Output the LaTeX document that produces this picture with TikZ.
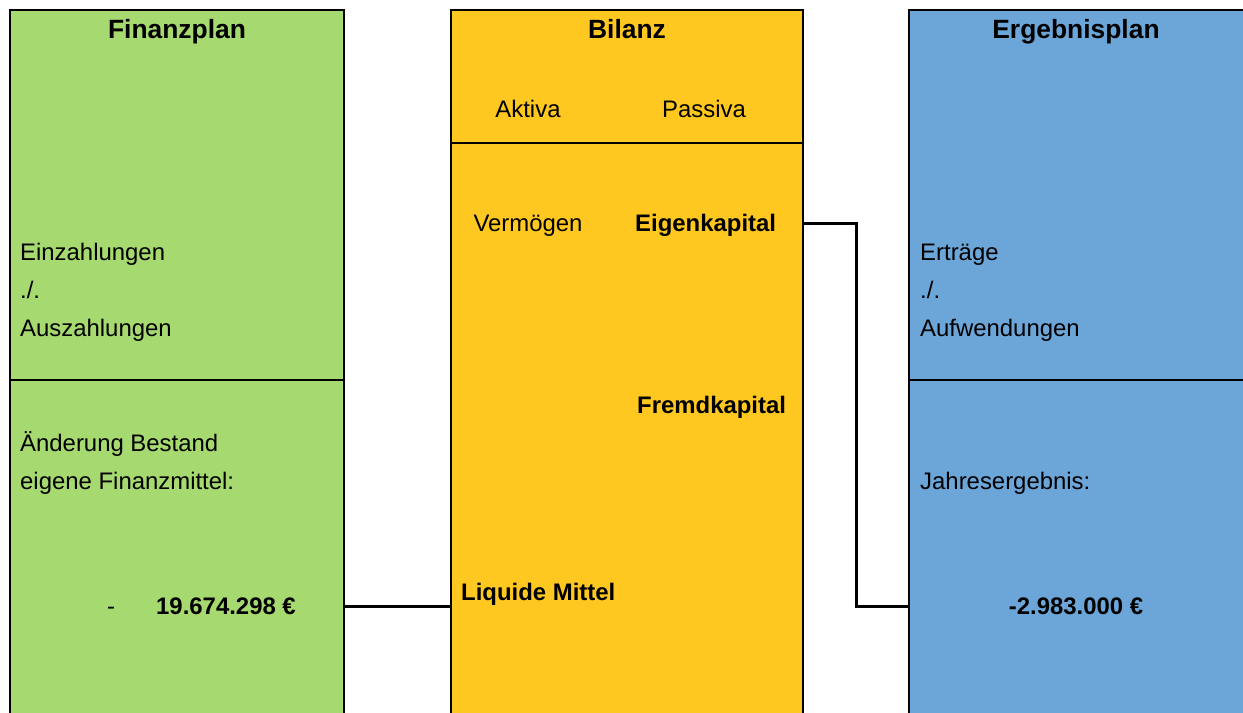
\documentclass[tikz,border=0pt]{standalone}
\usepackage{fontspec}
\setmainfont{Liberation Sans}
\definecolor{fgreen}{RGB}{166,217,111}
\definecolor{byellow}{RGB}{255,200,32}
\definecolor{eblue}{RGB}{108,166,217}
\begin{document}
\begin{tikzpicture}[x=1bp,y=-1bp,
  panel/.style={draw=black,line width=1.5bp,anchor=north west,inner sep=0pt,outer sep=0pt},
  divider/.style={line width=1.5bp},
  conn/.style={line width=3bp},
  title/.style={font=\fontsize{26.5}{30}\selectfont\bfseries,anchor=base,inner sep=0pt},
  txt/.style={font=\fontsize{24}{30}\selectfont,anchor=base west,inner sep=0pt},
  btxt/.style={font=\fontsize{24}{30}\selectfont\bfseries,anchor=base west,inner sep=0pt},
  ctxt/.style={font=\fontsize{24}{30}\selectfont,anchor=base,inner sep=0pt},
  cbtxt/.style={font=\fontsize{24}{30}\selectfont\bfseries,anchor=base,inner sep=0pt}]
\useasboundingbox (0,0) rectangle (1243,713);
\fill[white] (0,0) rectangle (1243,713);
\clip (0,0) rectangle (1243,713);
% panels
\node[panel,fill=fgreen,minimum width=334bp,minimum height=740bp] (fin) at (10,10) {};
\node[panel,fill=byellow,minimum width=352bp,minimum height=740bp] (bil) at (451,10) {};
\node[panel,fill=eblue,minimum width=360bp,minimum height=740bp] (erg) at (909,10) {};
% dividers
\draw[divider] (fin.west |- 0,380) -- (fin.east |- 0,380);
\draw[divider] (bil.west |- 0,143) -- (bil.east |- 0,143);
\draw[divider] (erg.west |- 0,380) -- (erg.east |- 0,380);
% titles
\node[title] (t1) at (177,39) {Finanzplan};
\node[title] (t2) at (627,39) {Bilanz};
\node[title] (t3) at (1076,39) {Ergebnisplan};
% Finanzplan
\node[txt] (ein) at (20,260) {Einzahlungen};
\node[txt] (mi1) at (20,298) {./.};
\node[txt] (aus) at (20,336) {Auszahlungen};
\node[txt] (aen) at (20,451) {Änderung Bestand};
\node[txt] (efm) at (20,489) {eigene Finanzmittel:};
\node[txt] (dash) at (107,614) {-};
\node[btxt] (fval) at (156,614) {19.674.298 €};
% Bilanz
\node[ctxt] (akt) at (528,118) {Aktiva};
\node[ctxt] (pas) at (704,118) {Passiva};
\node[ctxt] (ver) at (528,232) {Vermögen};
\node[btxt] (ek) at (635,232) {Eigenkapital};
\node[btxt] (fk) at (637,413) {Fremdkapital};
\node[btxt] (liq) at (461,600) {Liquide Mittel};
% Ergebnisplan
\node[txt] (ert) at (920,260) {Erträge};
\node[txt] (mi2) at (920,298) {./.};
\node[txt] (auf) at (920,336) {Aufwendungen};
\node[txt] (jer) at (920,489) {Jahresergebnis:};
\node[cbtxt] (eval) at (1076,614) {-2.983.000 €};
% connectors
\coordinate (y1) at (0,606);
\coordinate (y2) at (0,223);
\coordinate (bend) at (856,0);
\draw[conn] (fin.east |- y1) -- (bil.west |- y1);
\draw[conn] (bil.east |- y2) -- (bend |- y2) -- (bend |- y1) -- (erg.west |- y1);
\end{tikzpicture}
\end{document}
